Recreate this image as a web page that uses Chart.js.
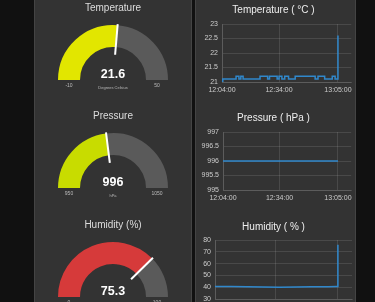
<!DOCTYPE html>
<html><head><meta charset="utf-8">
<script src="https://cdn.jsdelivr.net/npm/chart.js@4.4.0/dist/chart.umd.min.js"></script>
<style>
html,body{margin:0;padding:0;background:#111;width:375px;height:302px;overflow:hidden;}
.panel{position:absolute;top:-10px;height:340px;background:#333;box-sizing:border-box;border:1px solid #444;}
canvas{position:absolute;}
</style></head><body>
<div class="panel" style="left:34px;width:158px"></div>
<div class="panel" style="left:195px;width:161px"></div>
<canvas id="g0" style="left:34px;top:0px;width:158px;height:110px" width="158" height="110"></canvas>
<canvas id="g1" style="left:34px;top:108px;width:158px;height:110px" width="158" height="110"></canvas>
<canvas id="g2" style="left:34px;top:217px;width:158px;height:110px" width="158" height="110"></canvas>
<canvas id="c0" style="left:195px;top:0px;width:161px;height:96px" width="161" height="96"></canvas>
<canvas id="c1" style="left:195px;top:100px;width:161px;height:104px" width="161" height="104"></canvas>
<canvas id="c2" style="left:195px;top:205px;width:161px;height:108px" width="161" height="108"></canvas>
<script>
// ---------- data ----------
const gaugeTitles = ['Temperature', 'Pressure', 'Humidity (%)'];
const gaugeValues = [21.6, 996, 75.3];
const gaugeMins = [-10, 950, 0];
const gaugeMaxs = [50, 1050, 100];
const gaugeUnits = ['Degrees Celsius', 'hPa', ''];

const tickMinutes = [0, 30, 61];
const tickLabels = ['12:04:00', '12:34:00', '13:05:00'];

const tempMinutes = [0, 0.4, 7.4, 8.9, 9.9, 11.1, 20, 24, 25, 29, 30, 31.5, 33, 35, 38.5, 49, 50.5, 54, 58, 59.5, 61];
const tempValues  = [21.0, 21.1, 21.2, 21.1, 21.2, 21.1, 21.2, 21.1, 21.2, 21.1, 21.2, 21.1, 21.2, 21.1, 21.2, 21.1, 21.2, 21.1, 21.2, 21.1, 22.6];

const pressMinutes = [0, 15, 30, 45, 61];
const pressValues  = [996, 996, 996, 996, 996];

const humMinutes = [0, 8, 16, 24, 32, 40, 48, 56, 60.6, 61];
const humValues  = [40.6, 40.5, 40.3, 40.1, 40.0, 40.1, 40.3, 40.4, 40.6, 76];

// ---------- styles ----------
const FONT = '"Liberation Sans", Arial, Helvetica, sans-serif';
const gaugeColors = ['#e2e600', '#c8dc00', '#d63a3a'];
const GAUGE_BG = '#5a5a5a';
const LINE = '#3088cc';
const GRID = 'rgba(255,255,255,0.11)';
const TICK = '#cccccc';

const gaugePlugin = {
  id: 'gaugeText',
  afterDatasetsDraw(chart, args, opts) {
    const i = opts.index;
    const arc = chart.getDatasetMeta(0).data[0];
    const p = arc.getProps(['x', 'y', 'outerRadius', 'innerRadius', 'endAngle'], true);
    const ctx = chart.ctx;
    const R = p.outerRadius, r = p.innerRadius, ang = p.endAngle;
    ctx.save();
    ctx.strokeStyle = '#ffffff';
    ctx.lineWidth = 2;
    ctx.beginPath();
    ctx.moveTo(p.x + Math.cos(ang) * R * 0.46, p.y + Math.sin(ang) * R * 0.46);
    ctx.lineTo(p.x + Math.cos(ang) * (R + 1), p.y + Math.sin(ang) * (R + 1));
    ctx.stroke();
    ctx.textAlign = 'center';
    ctx.textBaseline = 'middle';
    ctx.fillStyle = '#dddddd';
    ctx.font = '10px ' + FONT;
    ctx.fillText(gaugeTitles[i], p.x, p.y - 72);
    ctx.fillStyle = '#ffffff';
    ctx.font = 'bold 12.5px ' + FONT;
    ctx.fillText(String(gaugeValues[i]), p.x, p.y - 5);
    ctx.fillStyle = '#bbbbbb';
    ctx.font = '4px ' + FONT;
    ctx.fillText(gaugeUnits[i], p.x, p.y + 7.5);
    ctx.font = '5px ' + FONT;
    const mid = (R + r) / 2;
    ctx.fillText(String(gaugeMins[i]), p.x - mid, p.y + 5.5);
    ctx.fillText(String(gaugeMaxs[i]), p.x + mid, p.y + 5.5);
    ctx.restore();
  }
};

gaugeTitles.forEach((t, i) => {
  new Chart(document.getElementById('g' + i), {
    type: 'doughnut',
    data: {
      labels: ['value', 'rest'],
      datasets: [{
        data: [gaugeValues[i] - gaugeMins[i], gaugeMaxs[i] - gaugeValues[i]],
        backgroundColor: [gaugeColors[i], GAUGE_BG],
        borderWidth: 0
      }]
    },
    options: {
      responsive: false, animation: false, events: [],
      rotation: -90, circumference: 180, cutout: '60%',
      layout: { padding: { left: 24, right: 24, top: 25, bottom: 30 } },
      plugins: { legend: { display: false }, tooltip: { enabled: false }, gaugeText: { index: i } }
    },
    plugins: [gaugePlugin]
  });
});

function makeLine(id, title, xs, ys, yMin, yMax, yStep, yWidth, tTop, tBottom, stepped) {
  new Chart(document.getElementById(id), {
    type: 'line',
    data: {
      datasets: [{
        data: xs.map((x, k) => ({ x: x, y: ys[k] })),
        borderColor: LINE, borderWidth: 1.5, pointRadius: 0,
        stepped: stepped, tension: 0, fill: false
      }]
    },
    options: {
      responsive: false, animation: false, events: [],
      layout: { padding: { left: 0, right: 4, top: 0, bottom: 0 } },
      plugins: {
        legend: { display: false }, tooltip: { enabled: false },
        title: {
          display: true, text: title, color: '#eeeeee',
          font: { family: FONT, size: 10, weight: 'normal', lineHeight: 1.2 },
          padding: { top: tTop, bottom: tBottom }
        }
      },
      scales: {
        x: {
          type: 'linear', min: 0, max: 68,
          afterBuildTicks: s => { s.ticks = tickMinutes.map(v => ({ value: v })); },
          afterFit: s => { s.height = 14; },
          ticks: {
            color: TICK, font: { family: FONT, size: 7 }, padding: 4,
            maxRotation: 0, autoSkip: false,
            callback: (v, idx) => tickLabels[idx]
          },
          grid: { color: GRID, drawTicks: false },
          border: { color: GRID }
        },
        y: {
          min: yMin, max: yMax,
          afterFit: s => { s.width = yWidth; },
          ticks: {
            stepSize: yStep, color: TICK, font: { family: FONT, size: 7 }, padding: 4,
            callback: v => String(Math.round(v * 100) / 100)
          },
          grid: { color: GRID, drawTicks: false },
          border: { color: GRID }
        }
      }
    }
  });
}

makeLine('c0', 'Temperature ( °C )', tempMinutes, tempValues, 21, 23, 0.5, 27, 4, 8, true);
makeLine('c1', 'Pressure ( hPa )', pressMinutes, pressValues, 995, 997, 0.5, 28, 12.5, 7.5, false);
makeLine('c2', 'Humidity ( % )', humMinutes, humValues, 30, 80, 10, 20, 16, 7, false);
</script>
</body></html>
